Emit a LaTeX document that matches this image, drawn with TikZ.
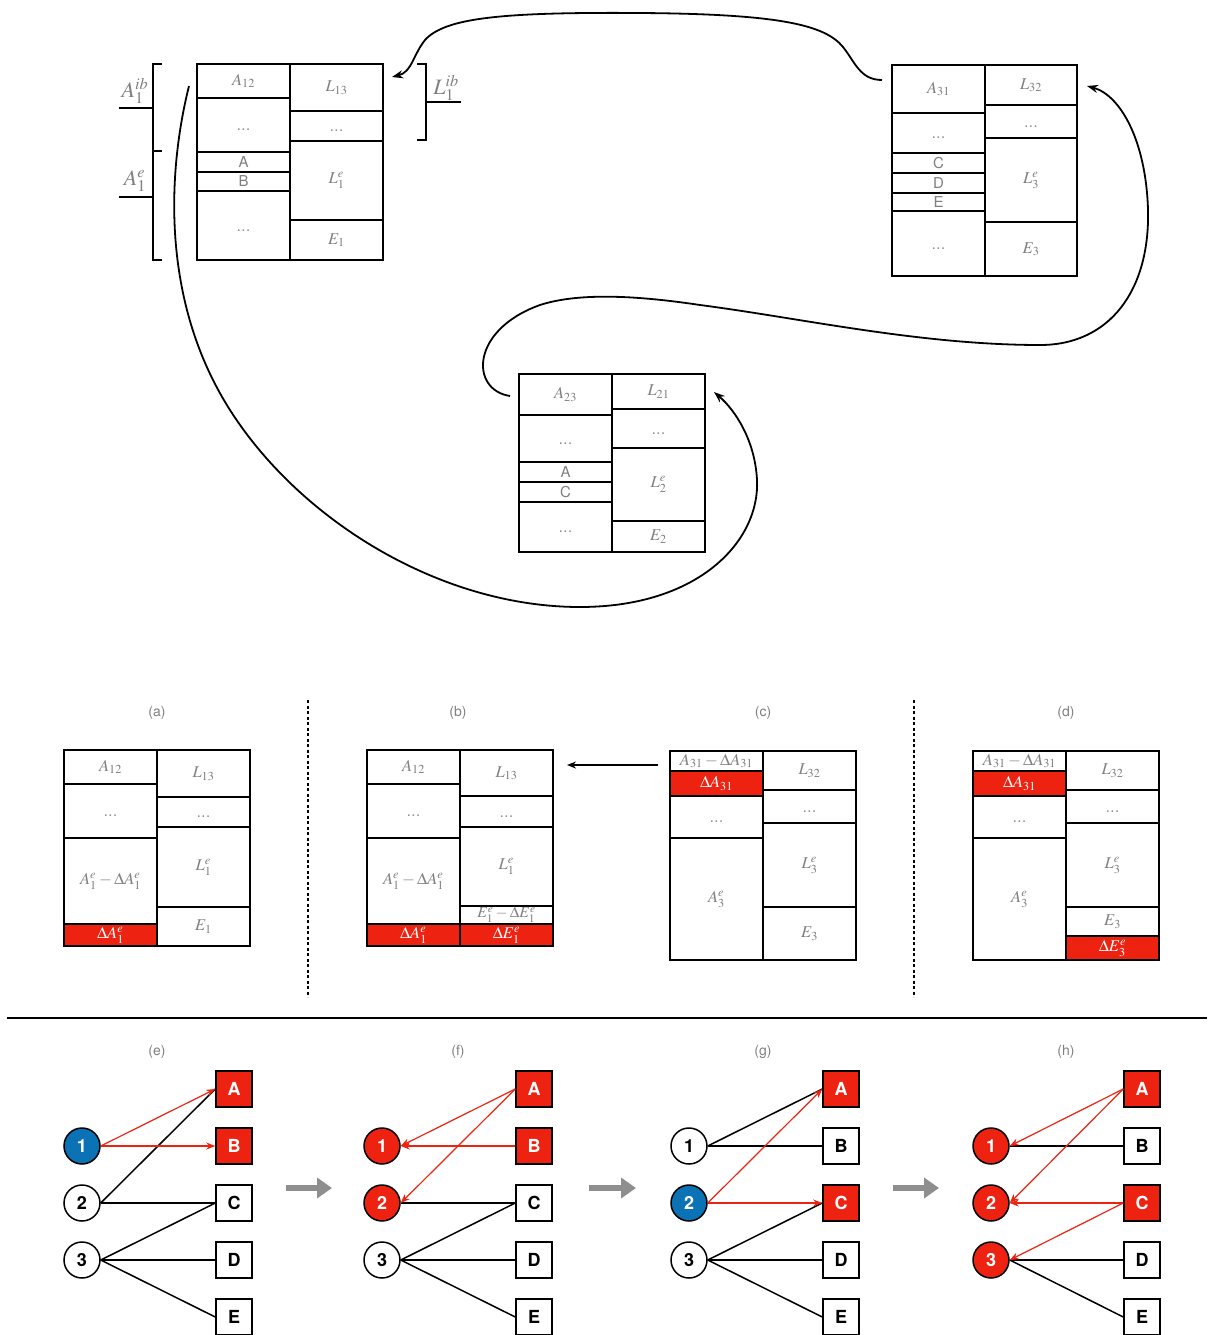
\documentclass[tikz,border=0pt]{standalone}
\usepackage{mathptmx}
\usepackage{fontspec}
\setsansfont{TeX Gyre Heros}
\usetikzlibrary{arrows.meta,calc}

\definecolor{hlred}{HTML}{EE2211}
\definecolor{hlblue}{HTML}{0B72B5}
\definecolor{txtgray}{HTML}{7F7F7F}
\definecolor{arrgray}{HTML}{8E8E8E}

% one rectangular memory cell: [extra style]{name}{x1}{y1}{x2}{y2}{text}
\newcommand\memcell[7][]{%
  \pgfmathsetmacro\memw{#5-#3}%
  \pgfmathsetmacro\memh{#6-#4}%
  \node[cellbox,minimum width=\memw pt,minimum height=\memh pt,#1] (#2) at ({(#3+#5)/2},{(#4+#6)/2}) {#7};%
}
\newcommand\celldots{$\vphantom{A}...$}

\tikzset{
  cellbox/.style={draw=black,line width=1.8pt,inner sep=0pt,outer sep=0pt,text=txtgray,font=\fontsize{16.5}{19}\selectfont},
  hot/.style={fill=hlred,text=white},
  sfcell/.style={font=\sffamily\fontsize{15}{18}\selectfont},
  cellsmall/.style={font=\fontsize{15.5}{17}\selectfont},
  brk/.style={draw=black,line width=1.4pt},
  brklabel/.style={text=txtgray,font=\fontsize{22}{24}\selectfont,inner sep=0pt},
  plabel/.style={text=txtgray,font=\sffamily\fontsize{14}{16}\selectfont},
  memlink/.style={draw=black,line width=1.8pt,-{Stealth[length=11pt,width=8pt]}},
  divider/.style={draw=black,line width=2pt,dash pattern=on 3pt off 2.5pt},
  vtx/.style={circle,draw=black,line width=1.5pt,minimum size=36pt,inner sep=0pt,fill=white,
    font=\sffamily\bfseries\fontsize{18}{20}\selectfont},
  vblue/.style={vtx,fill=hlblue,text=white},
  vred/.style={vtx,fill=hlred,text=white},
  sq/.style={rectangle,draw=black,line width=1.5pt,minimum size=36pt,inner sep=0pt,fill=white,
    font=\sffamily\bfseries\fontsize{18}{20}\selectfont},
  sqred/.style={sq,fill=hlred,text=white},
  plain/.style={draw=black,line width=1.5pt},
  hotarrow/.style={draw=hlred,line width=1.2pt,-{Stealth[length=9pt,width=7pt]}},
  bigarrow/.style={draw=arrgray,line width=6.5pt,-{Triangle[length=15pt,width=20pt]}},
}

\begin{document}
\begin{tikzpicture}[x=1pt,y=-1pt]
\useasboundingbox (0,0) rectangle (1207,1335);

% ---------------- upper part: three memory blocks ----------------
% block 1
\memcell{b1-a12}{197}{64}{290}{98}{$A_{12}$}
\memcell{b1-ld1}{197}{98}{290}{152}{\celldots}
\memcell[sfcell]{b1-A}{197}{152}{290}{172}{A}
\memcell[sfcell]{b1-B}{197}{172}{290}{191}{B}
\memcell{b1-ld2}{197}{191}{290}{260}{\celldots}
\memcell{b1-l13}{290}{64}{383}{111}{$L_{13}$}
\memcell{b1-rd}{290}{111}{383}{141}{\celldots}
\memcell{b1-le}{290}{141}{383}{220}{$L_1^e$}
\memcell{b1-e}{290}{220}{383}{260}{$E_1$}

% block 3
\memcell{b3-a31}{892}{65}{985}{113}{$A_{31}$}
\memcell{b3-ld1}{892}{113}{985}{153}{\celldots}
\memcell[sfcell]{b3-C}{892}{153}{985}{173}{C}
\memcell[sfcell]{b3-D}{892}{173}{985}{193}{D}
\memcell[sfcell]{b3-E}{892}{193}{985}{211}{E}
\memcell{b3-ld2}{892}{211}{985}{276}{\celldots}
\memcell{b3-l32}{985}{65}{1077}{105}{$L_{32}$}
\memcell{b3-rd}{985}{105}{1077}{138}{\celldots}
\memcell{b3-le}{985}{138}{1077}{222}{$L_3^e$}
\memcell{b3-e}{985}{222}{1077}{276}{$E_3$}

% block 2
\memcell{b2-a23}{519}{374}{612}{415}{$A_{23}$}
\memcell{b2-ld1}{519}{415}{612}{462}{\celldots}
\memcell[sfcell]{b2-A}{519}{462}{612}{482}{A}
\memcell[sfcell]{b2-C}{519}{482}{612}{502}{C}
\memcell{b2-ld2}{519}{502}{612}{552}{\celldots}
\memcell{b2-l21}{612}{374}{705}{409}{$L_{21}$}
\memcell{b2-rd}{612}{409}{705}{448}{\celldots}
\memcell{b2-le}{612}{448}{705}{521}{$L_2^e$}
\memcell{b2-e}{612}{521}{705}{552}{$E_2$}

% brackets beside block 1
\draw[brk] (162,64) -- (153,64) -- (153,151) -- (162,151);
\draw[brk] (162,151) -- (153,151) -- (153,260) -- (162,260);
\draw[brk] (417,64) -- (426,64) -- (426,140) -- (417,140);
\node[brklabel] (lab-aib) at (135,91) {$A_1^{ib}$};
\node[brklabel] (lab-ae) at (135,181) {$A_1^{e}$};
\node[brklabel] (lab-lib) at (446,88) {$L_1^{ib}$};
\draw[brk] (119,108) -- (153,108);
\draw[brk] (119,197) -- (153,197);
\draw[brk] (426,102) -- (461,102);

% connectors between the blocks
\coordinate (k1s) at ($(b3-a31.north west)+(-10,15)$);
\coordinate (k1e) at ($(b1-l13.north east)+(9,13)$);
\coordinate (k2s) at ($(b1-a12.north west)+(-8,22)$);
\coordinate (k2e) at ($(b2-l21.north east)+(9,18)$);
\coordinate (k3s) at ($(b2-a23.north west)+(-9,22)$);
\coordinate (k3e) at ($(b3-l32.north east)+(10,21)$);

\draw[memlink] (k1s) .. controls (860,80) and (855,62) .. (843,47)
  .. controls (825,25) and (780,14) .. (640,13)
  .. controls (500,12) and (445,18) .. (425,40)
  .. controls (413,55) and (412,72) .. (k1e);

\draw[memlink] (k2s) .. controls (168,170) and (160,300) .. (230,410)
  .. controls (300,520) and (440,607) .. (580,607)
  .. controls (700,607) and (760,540) .. (757,480)
  .. controls (755,440) and (735,410) .. (k2e);

\draw[memlink] (k3s) .. controls (470,390) and (470,330) .. (540,305)
  .. controls (580,292) and (640,296) .. (700,305)
  .. controls (800,318) and (920,345) .. (1040,345)
  .. controls (1110,345) and (1150,290) .. (1148,210)
  .. controls (1146,140) and (1120,95) .. (k3e);

% ---------------- middle part: panels (a)-(d) ----------------
\node[plabel] (lab-a) at (157,713) {(a)};
\node[plabel] (lab-b) at (458,713) {(b)};
\node[plabel] (lab-c) at (763,713) {(c)};
\node[plabel] (lab-d) at (1066,713) {(d)};

% (a)
\memcell{a-a12}{64}{750}{157}{784}{$A_{12}$}
\memcell{a-ld}{64}{784}{157}{838}{\celldots}
\memcell{a-ae}{64}{838}{157}{924}{$A_1^e-\Delta A_1^e$}
\memcell[hot]{a-da}{64}{924}{157}{946}{$\Delta A_1^e$}
\memcell{a-l13}{157}{750}{250}{797}{$L_{13}$}
\memcell{a-rd}{157}{797}{250}{827}{\celldots}
\memcell{a-le}{157}{827}{250}{907}{$L_1^e$}
\memcell{a-e}{157}{907}{250}{946}{$E_1$}

% (b)
\memcell{b-a12}{367}{750}{460}{784}{$A_{12}$}
\memcell{b-ld}{367}{784}{460}{838}{\celldots}
\memcell{b-ae}{367}{838}{460}{924}{$A_1^e-\Delta A_1^e$}
\memcell[hot]{b-da}{367}{924}{460}{946}{$\Delta A_1^e$}
\memcell{b-l13}{460}{750}{553}{796}{$L_{13}$}
\memcell{b-rd}{460}{796}{553}{827}{\celldots}
\memcell{b-le}{460}{827}{553}{906}{$L_1^e$}
\memcell[cellsmall]{b-ed}{460}{906}{553}{924}{$E_1^e-\Delta E_1^e$}
\memcell[hot]{b-de}{460}{924}{553}{946}{$\Delta E_1^e$}

% (c)
\memcell{c-a31}{670}{751}{763}{771}{$A_{31}-\Delta A_{31}$}
\memcell[hot]{c-da}{670}{771}{763}{796}{$\Delta A_{31}$}
\memcell{c-ld}{670}{796}{763}{838}{\celldots}
\memcell{c-ae}{670}{838}{763}{960}{$A_3^e$}
\memcell{c-l32}{763}{751}{856}{790}{$L_{32}$}
\memcell{c-rd}{763}{790}{856}{823}{\celldots}
\memcell{c-le}{763}{823}{856}{907}{$L_3^e$}
\memcell{c-e}{763}{907}{856}{960}{$E_3$}

% (d)
\memcell{d-a31}{973}{751}{1066}{771}{$A_{31}-\Delta A_{31}$}
\memcell[hot]{d-da}{973}{771}{1066}{796}{$\Delta A_{31}$}
\memcell{d-ld}{973}{796}{1066}{838}{\celldots}
\memcell{d-ae}{973}{838}{1066}{960}{$A_3^e$}
\memcell{d-l32}{1066}{751}{1159}{790}{$L_{32}$}
\memcell{d-rd}{1066}{790}{1159}{823}{\celldots}
\memcell{d-le}{1066}{823}{1159}{907}{$L_3^e$}
\memcell{d-e}{1066}{907}{1159}{936}{$E_3$}
\memcell[hot]{d-de}{1066}{936}{1159}{960}{$\Delta E_3^e$}

% transfer arrow from (c) to (b)
\coordinate (cb-s) at ($(c-a31.west)+(-12,4)$);
\coordinate (cb-e) at ($(b-l13.east)+(14,-8)$);
\draw[draw=black,line width=1.5pt,-{Stealth[length=9pt,width=7pt]}] (cb-s) -- (cb-e);

% dotted separators
\coordinate (dv1t) at (307.5,700); \coordinate (dv1b) at (307.5,997);
\coordinate (dv2t) at (914,700);   \coordinate (dv2b) at (914,997);
\draw[divider] (dv1t) -- (dv1b);
\draw[divider] (dv2t) -- (dv2b);

% horizontal rule
\coordinate (hr-l) at (7,1018); \coordinate (hr-r) at (1207,1018);
\draw[draw=black,line width=1.5pt] (hr-l) -- (hr-r);

% ---------------- lower part: graphs (e)-(h) ----------------
\node[plabel] (lab-e) at (157,1052) {(e)};
\node[plabel] (lab-f) at (458,1052) {(f)};
\node[plabel] (lab-g) at (763,1052) {(g)};
\node[plabel] (lab-h) at (1066,1052) {(h)};

% (e)
\foreach \n/\y/\s in {1/1146/vblue,2/1203/vtx,3/1260/vtx}
  \node[\s] (e-\n) at (82,\y) {\n};
\foreach \n/\y/\s in {A/1089/sqred,B/1146/sqred,C/1203/sq,D/1260/sq,E/1317/sq}
  \node[\s] (e-\n) at (234,\y) {\n};
\draw[plain] (e-2.east) -- (e-A.west);
\draw[plain] (e-2.east) -- (e-C.west);
\draw[plain] (e-3.east) -- (e-C.west);
\draw[plain] (e-3.east) -- (e-D.west);
\draw[plain] (e-3.east) -- (e-E.west);
\draw[hotarrow] (e-1.east) -- (e-A.west);
\draw[hotarrow] (e-1.east) -- (e-B.west);

% (f)
\foreach \n/\y/\s in {1/1146/vred,2/1203/vred,3/1260/vtx}
  \node[\s] (f-\n) at (382,\y) {\n};
\foreach \n/\y/\s in {A/1089/sqred,B/1146/sqred,C/1203/sq,D/1260/sq,E/1317/sq}
  \node[\s] (f-\n) at (534,\y) {\n};
\draw[plain] (f-2.east) -- (f-C.west);
\draw[plain] (f-3.east) -- (f-C.west);
\draw[plain] (f-3.east) -- (f-D.west);
\draw[plain] (f-3.east) -- (f-E.west);
\draw[hotarrow] (f-A.west) -- (f-1.east);
\draw[hotarrow] (f-B.west) -- (f-1.east);
\draw[hotarrow] (f-A.west) -- (f-2.east);

% (g)
\foreach \n/\y/\s in {1/1146/vtx,2/1203/vblue,3/1260/vtx}
  \node[\s] (g-\n) at (689,\y) {\n};
\foreach \n/\y/\s in {A/1089/sqred,B/1146/sq,C/1203/sqred,D/1260/sq,E/1317/sq}
  \node[\s] (g-\n) at (841,\y) {\n};
\draw[plain] (g-1.east) -- (g-A.west);
\draw[plain] (g-1.east) -- (g-B.west);
\draw[plain] (g-3.east) -- (g-C.west);
\draw[plain] (g-3.east) -- (g-D.west);
\draw[plain] (g-3.east) -- (g-E.west);
\draw[hotarrow] (g-2.east) -- (g-A.west);
\draw[hotarrow] (g-2.east) -- (g-C.west);

% (h)
\foreach \n/\y/\s in {1/1146/vred,2/1203/vred,3/1260/vred}
  \node[\s] (h-\n) at (991,\y) {\n};
\foreach \n/\y/\s in {A/1089/sqred,B/1146/sq,C/1203/sqred,D/1260/sq,E/1317/sq}
  \node[\s] (h-\n) at (1142,\y) {\n};
\draw[plain] (h-1.east) -- (h-B.west);
\draw[plain] (h-3.east) -- (h-D.west);
\draw[plain] (h-3.east) -- (h-E.west);
\draw[hotarrow] (h-A.west) -- (h-1.east);
\draw[hotarrow] (h-A.west) -- (h-2.east);
\draw[hotarrow] (h-C.west) -- (h-2.east);
\draw[hotarrow] (h-C.west) -- (h-3.east);

% step arrows between the graphs
\coordinate (st1s) at (286,1188); \coordinate (st1e) at (332,1188);
\coordinate (st2s) at (589,1188); \coordinate (st2e) at (636,1188);
\coordinate (st3s) at (893,1188); \coordinate (st3e) at (939,1188);
\draw[bigarrow] (st1s) -- (st1e);
\draw[bigarrow] (st2s) -- (st2e);
\draw[bigarrow] (st3s) -- (st3e);
\end{tikzpicture}
\end{document}
